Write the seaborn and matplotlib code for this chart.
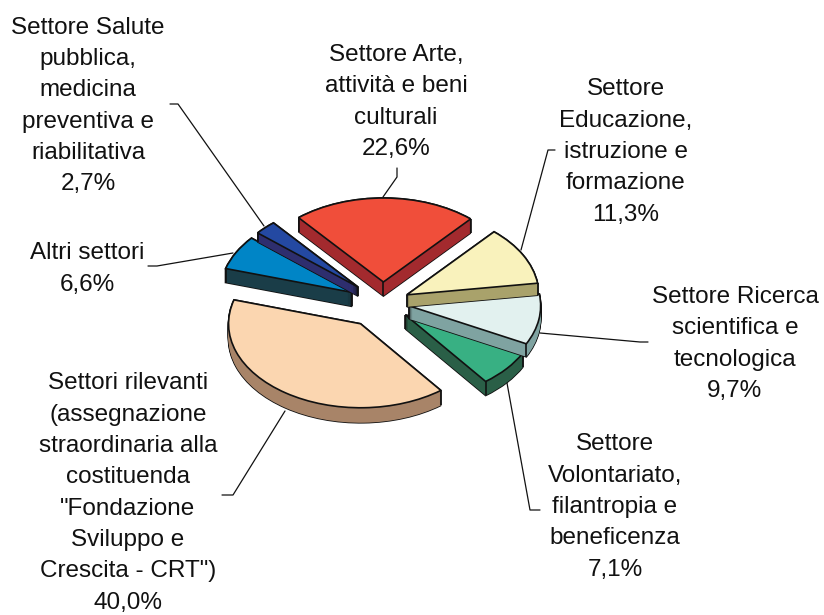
import matplotlib
matplotlib.use("Agg")
import matplotlib.pyplot as plt
import numpy as np
import seaborn as sns

sns.set_theme(style="white")
plt.rcParams["font.family"] = ["Liberation Sans", "DejaVu Sans"]

W, H = 824, 615
labels = [
    "Settore Arte,\nattività e beni\nculturali\n22,6%",
    "Settore\nEducazione,\nistruzione e\nformazione\n11,3%",
    "Settore Ricerca\nscientifica e\ntecnologica\n9,7%",
    "Settore\nVolontariato,\nfilantropia e\nbeneficenza\n7,1%",
    "Settori rilevanti\n(assegnazione\nstraordinaria alla\ncostituenda\n\"Fondazione\nSviluppo e\nCrescita - CRT\")\n40,0%",
    "Altri settori\n6,6%",
    "Settore Salute\npubblica,\nmedicina\npreventiva e\nriabilitativa\n2,7%",
]
values = [22.6, 11.3, 9.7, 7.1, 40.0, 6.6, 2.7]

top_colors = ["#F04E3A", "#F9F2BC", "#E2F1EF", "#38B083", "#FBD6B0", "#0085C6", "#2449A2"]
side_colors = ["#A32A2E", "#A9A26B", "#7FA3A1", "#2A5F47", "#A88468", "#1A3D48", "#2E2E6E"]
explode = [0.25, 0.205, 0.197, 0.22, 0.30, 0.265, 0.265]
paint_rank = [6, 5, 4, 3, 0, 1, 2]
depths = [14, 12, 13, 14, 15, 14, 9]

label_xy = [(396, 102), (626, 152), (735, 344), (615, 507), (128, 493), (87, 269), (88, 106)]
leaders = [
    [(383, 197), (397, 177), (397, 168)],
    [(555, 150), (548, 150), (521, 250)],
    [(540, 333), (640, 342), (648, 342)],
    [(507, 383), (530, 510), (540, 510)],
    [(285, 411), (233, 495), (222, 495)],
    [(148, 266), (157, 266), (233, 253)],
    [(170, 104), (178, 104), (264, 226)],
]

R_PX, RY_PX = 132, 84
CX_PX, CY_PX = 383, 303
EDGE = "#111111"

fig = plt.figure(figsize=(W / 100, H / 100), dpi=100)
ax = fig.add_axes([0, 0, 1, 1])
common = dict(x=values, explode=explode, startangle=130, counterclock=False, radius=1, normalize=True)

for px in range(max(depths), -1, -1):
    cy = -px / RY_PX
    sil, _ = ax.pie(center=(0, cy), colors=side_colors, wedgeprops=dict(edgecolor=EDGE, linewidth=1.2), **common)
    fill, _ = ax.pie(center=(0, cy), colors=side_colors, wedgeprops=dict(edgecolor="none", linewidth=0), **common)
    for a, b, rank, d in zip(sil, fill, paint_rank, depths):
        a.set_zorder(rank * 10 + 1)
        b.set_zorder(rank * 10 + 2)
        a.set_visible(px <= d)
        b.set_visible(px <= d)

top, _ = ax.pie(center=(0, 0), colors=top_colors, wedgeprops=dict(edgecolor=EDGE, linewidth=1.2, joinstyle="miter"), **common)
for w, rank, d in zip(top, paint_rank, depths):
    w.set_zorder(rank * 10 + 4)
    cx, cy = w.center
    corners = [(cx, cy)]
    for t in (w.theta1, w.theta2):
        corners.append((cx + np.cos(np.radians(t)), cy + np.sin(np.radians(t))))
    for x, y in corners:
        ax.plot([x, x], [y, y - d / RY_PX], color=EDGE, lw=1.2, zorder=rank * 10 + 3, solid_capstyle="butt")

ax.set_aspect("auto")
ax.set_xlim(-CX_PX / R_PX, (W - CX_PX) / R_PX)
ax.set_ylim((CY_PX - H) / RY_PX, CY_PX / RY_PX)

def fpx(p):
    return p[0] / W, 1 - p[1] / H

for pts in leaders:
    xs, ys = zip(*[fpx(p) for p in pts])
    fig.add_artist(plt.Line2D(xs, ys, color="#111111", lw=0.9, transform=fig.transFigure))

for text, xy in zip(labels, label_xy):
    x, y = fpx(xy)
    fig.text(x, y, text, ha="center", va="center", fontsize=17.5, linespacing=1.55, color="#111111")

fig.savefig("out.png", dpi=100)
